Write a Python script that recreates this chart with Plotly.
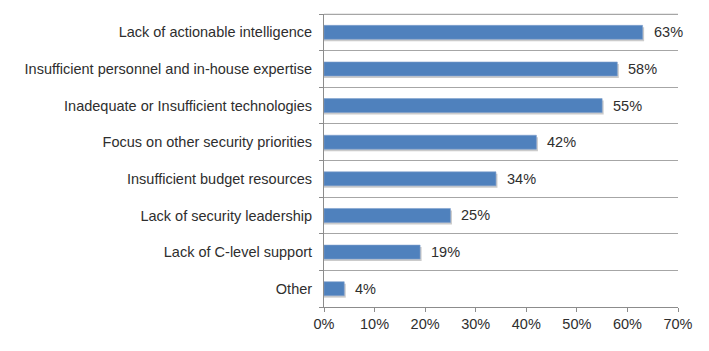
import plotly.graph_objects as go

categories = [
    "Lack of actionable intelligence",
    "Insufficient personnel and in-house expertise",
    "Inadequate or Insufficient technologies",
    "Focus on other security priorities",
    "Insufficient budget resources",
    "Lack of security leadership",
    "Lack of C-level support",
    "Other",
]
values = [63, 58, 55, 42, 34, 25, 19, 4]
x_ticks = [0, 10, 20, 30, 40, 50, 60, 70]
x_ticktext = [f"{t}%" for t in x_ticks]

BAR = "#4F81BD"
FONT = "Liberation Sans, Arial, sans-serif"
BAR_W = 0.38
SHADOW_DX = 0.3     # shadow extension in value units
SHADOW_DY = 0.055   # shadow drop in category-band units

fig = go.Figure()
# soft drop shadow behind each bar
fig.add_trace(go.Bar(
    x=[v + SHADOW_DX for v in values], y=categories, orientation="h",
    width=BAR_W, offset=-BAR_W / 2 - SHADOW_DY,
    marker=dict(color="rgba(140,140,140,0.45)", line=dict(width=0)),
    hoverinfo="skip",
))
fig.add_trace(go.Bar(
    x=values, y=categories, orientation="h",
    width=BAR_W, offset=-BAR_W / 2,
    marker=dict(color=BAR, line=dict(color="#7F9FCC", width=0.6)),
    hoverinfo="skip",
))

for c, v in zip(categories, values):
    fig.add_annotation(x=v, y=c, text=f"{v}%", showarrow=False,
                       xanchor="left", xshift=9,
                       font=dict(family=FONT, size=14.5, color="#2E2E2E"))

# top border of the plot area, placed just inside the top edge
fig.add_shape(type="line", xref="paper", yref="paper", x0=0, x1=1,
              y0=0.9985, y1=0.9985, line=dict(color="#A6A6A6", width=1.2))

fig.update_layout(
    width=709, height=351,
    margin=dict(l=324, r=31, t=14, b=44),
    paper_bgcolor="white", plot_bgcolor="white",
    showlegend=False, barmode="overlay",
    font=dict(family=FONT, size=14.5, color="#2E2E2E"),
)
fig.update_xaxes(
    range=[0, 70], tickvals=x_ticks, ticktext=x_ticktext,
    showgrid=False, zeroline=False,
    showline=True, linecolor="#8C8C8C", linewidth=1,
    ticks="outside", ticklen=4, tickcolor="#8C8C8C",
    tickfont=dict(family=FONT, size=14.5, color="#2E2E2E"),
)
fig.update_yaxes(
    type="category", categoryorder="array", categoryarray=categories[::-1],
    tickson="boundaries", showgrid=True, gridcolor="#A6A6A6", gridwidth=1,
    showline=True, linecolor="#8C8C8C", linewidth=1,
    ticks="outside", ticklen=4, tickcolor="#8C8C8C",
    ticklabelstandoff=8,
    tickfont=dict(family=FONT, size=14.5, color="#2E2E2E"),
)

fig.write_html("out.html")
